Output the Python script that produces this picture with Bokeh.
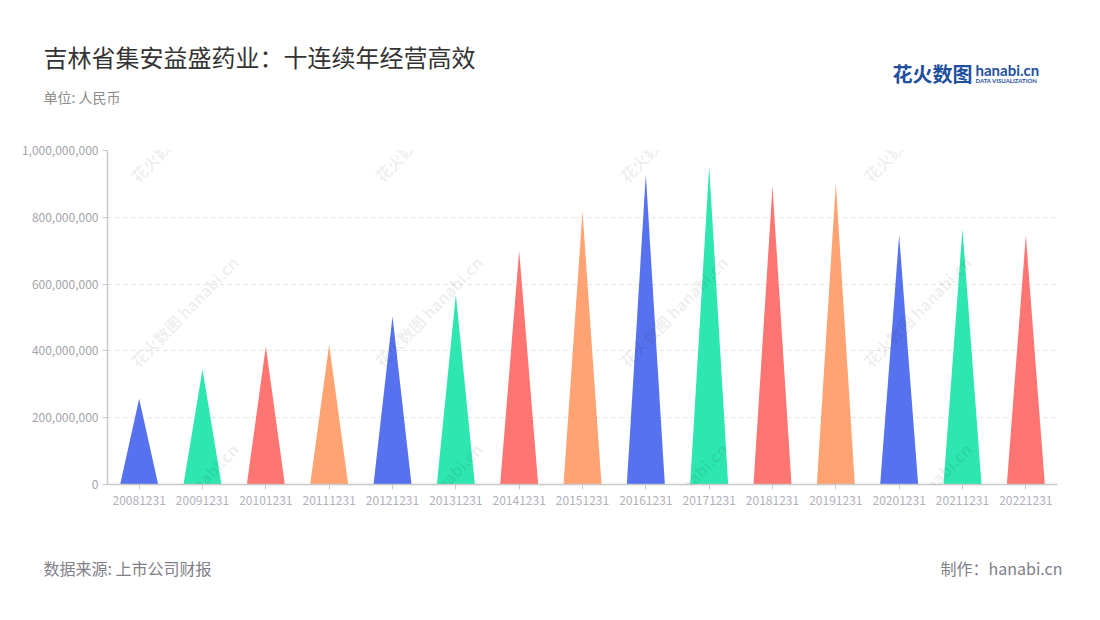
from bokeh.plotting import figure
from bokeh.models import (ColumnDataSource, Range1d, FixedTicker, NumeralTickFormatter, Label)
from bokeh.embed import file_html
from bokeh.resources import INLINE

# ---- data ----
years = ["20081231", "20091231", "20101231", "20111231", "20121231", "20131231",
         "20141231", "20151231", "20161231", "20171231", "20181231", "20191231",
         "20201231", "20211231", "20221231"]
revenue = [257e6, 344e6, 413e6, 419e6, 503e6, 569e6, 700e6, 817e6,
           928e6, 952e6, 892e6, 901e6, 746e6, 766e6, 746e6]
palette = ["#5672ef", "#2de6b0", "#ff7571", "#ffa372"]
y_ticks = [0, 200_000_000, 400_000_000, 600_000_000, 800_000_000, 1_000_000_000]

title = "吉林省集安益盛药业：十连续年经营高效"
unit = "单位: 人民币"
source_txt = "数据来源: 上市公司财报"
maker = "制作：hanabi.cn"
logo_cn = "花火数图"
logo_en = "hanabi.cn"
logo_sub = "DATA VISUALIZATION"
watermark = "花火数图 hanabi.cn"

FONT = "Noto Sans CJK SC"
HALF = 0.3  # half base width of each triangle, in category units

n = len(years)
xs, ys, cols = [], [], []
for i, v in enumerate(revenue):
    c = i + 0.5
    xs.append([c - HALF, c, c + HALF])
    ys.append([0, v, 0])
    cols.append(palette[i % len(palette)])
src = ColumnDataSource(dict(xs=xs, ys=ys, color=cols, year=years, value=revenue))

W, H = 1092, 612
FL, FR, FT, FB = 107, 1057, 150, 484
p = figure(width=W, height=H, output_backend="svg", toolbar_location=None,
           x_range=Range1d(0, n), y_range=Range1d(0, 1_000_000_000),
           min_border_left=FL, min_border_right=W - FR, min_border_top=FT,
           min_border_bottom=H - FB)
p.outline_line_color = None
p.background_fill_color = "white"
p.border_fill_color = "white"

def pos(px, py):
    return ((px - FL) / (FR - FL) * n, (FB - py) / (FB - FT) * 1_000_000_000)

p.patches("xs", "ys", source=src, fill_color="color", line_color=None)

# axes
p.xgrid.grid_line_color = None
p.ygrid.grid_line_color = "#e3e3e3"
p.ygrid.grid_line_dash = "4 4"
p.ygrid.grid_line_width = 1

p.xaxis.ticker = FixedTicker(ticks=[i + 0.5 for i in range(n)])
p.xaxis.major_label_overrides = {i + 0.5: y for i, y in enumerate(years)}
p.yaxis.ticker = FixedTicker(ticks=y_ticks)
p.yaxis.formatter = NumeralTickFormatter(format="0,0")

for ax in (p.xaxis, p.yaxis):
    ax.axis_line_color = "#c8c8c8"
    ax.axis_line_width = 1.5
    ax.major_tick_line_color = "#c8c8c8"
    ax.major_tick_out = 5
    ax.major_tick_in = 0
    ax.minor_tick_line_color = None
    ax.major_label_text_font = FONT
    ax.major_label_text_font_size = "12px"
p.yaxis.major_label_text_color = "#a4a4a8"
p.xaxis.major_label_text_color = "#b0b0bc"
p.yaxis.major_label_standoff = 4
p.xaxis.major_label_standoff = 6

# free texts: labels in data units; outer texts go in side panels (not clipped)
def label(px, py, text, size, color, place, align="left", style="normal",
          font=FONT, angle=0, alpha=1.0, baseline="middle"):
    x, y = pos(px, py)
    lab = Label(x=x, y=y, text=text, text_font=font, text_font_size=size,
                text_color=color, text_align=align, text_baseline=baseline,
                text_font_style=style, angle=angle, angle_units="deg",
                text_alpha=alpha)
    if place == "center":
        p.add_layout(lab)
    else:
        p.add_layout(lab, place)

# watermarks (inside plot area)
for wx in [184, 428, 673, 917]:
    for wy in [126, 311, 498]:
        label(wx, wy, watermark, "16px", "#000000", "center", align="center",
              style="bold", angle=46, alpha=0.08)

label(43, 56, title, "24px", "#333333", "above")
label(43, 96, unit, "14px", "#8c8c8c", "above")
label(43, 567, source_txt, "16px", "#808088", "below")
label(1062, 567, maker, "16px", "#808088", "below", align="right")

# logo
label(892, 73, logo_cn, "20px", "#1f4f9f", "above", style="bold")
label(975, 69, logo_en, "15px", "#1f4f9f", "above", style="bold", font="Lato")
label(975, 80, logo_sub, "6px", "#1f4f9f", "above", style="bold", font="Lato")

open("out.html", "w").write(file_html(p, INLINE))
